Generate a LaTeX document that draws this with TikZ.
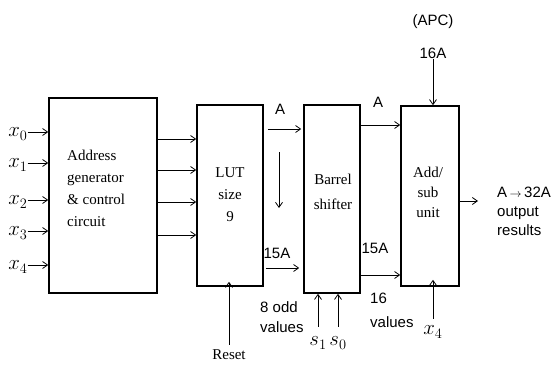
\documentclass[tikz,border=0pt]{standalone}
\usepackage{fontspec}
\setmainfont{Liberation Serif}
\setsansfont{Liberation Sans}
\usepackage{tikz}
\usetikzlibrary{arrows.meta,positioning,calc}

\begin{document}
\begin{tikzpicture}[
  x=1pt,y=-1pt,
  blk/.style={draw,line width=1.6pt,inner sep=0pt},
  txt/.style={font=\fontsize{15}{22}\selectfont,align=center,inner sep=0pt},
  lbl/.style={font=\sffamily\fontsize{15}{20}\selectfont,align=left,inner sep=0pt},
  var/.style={font=\fontsize{20}{22}\selectfont,inner sep=0pt},
  ar/.style={-{Straight Barb[length=5pt,width=7pt]},line width=0.8pt}
]
\useasboundingbox (0,0) rectangle (552,367);

\node[blk,minimum width=108pt,minimum height=195pt] (addr) at (103,195.5) {};
\node[blk,minimum width=66pt,minimum height=181pt] (lut) at (230,195.5) {};
\node[blk,minimum width=56pt,minimum height=188pt] (bar) at (332,199) {};
\node[blk,minimum width=58pt,minimum height=180pt] (add) at (430,196) {};

\node[txt,align=left,anchor=west] (addrtxt) at (67,188.5)
  {Address\\generator\\\& control\\circuit};
\node[txt] (luttxt) at (230,195) {LUT\\size\\9};
\node[txt,font=\fontsize{15}{25}\selectfont] (bartxt) at (333,191.5) {Barrel\\shifter};
\node[txt,font=\fontsize{15}{20}\selectfont] (addtxt) at (428,192) {Add/\\sub\\unit};

\foreach \i/\y in {0/132,1/163,2/200,3/231,4/265}{
  \node[var] (x\i) at (18,\y+2) {$x_\i$};
  \draw[ar] ([yshift=2pt]x\i.east) -- ([yshift=2pt]x\i.east -| addr.west);
}
\foreach \y in {139,170,202,235}
  \draw[ar] (addr.east |- 0,\y) -- (lut.west |- 0,\y);

\node[lbl] (la1) at (280,109) {A};
\node[lbl] (lb1) at (277,253) {15A};
\node[lbl,anchor=west] (lodd) at (260,317) {8 odd\\values};
\draw[ar] ([xshift=4pt]lut.east |- 0,129) -- ([xshift=-2pt]bar.west |- 0,129);
\draw[ar] ([xshift=2pt]lut.east |- 0,268) -- ([xshift=-4pt]bar.west |- 0,268);
\coordinate (dtop) at (279,152);
\coordinate (dbot) at (279,208);
\draw[ar] (dtop) -- (dbot);

\node[txt] (rst) at (229,355) {Reset};
\draw[ar] ([yshift=5pt]rst.north) -- ([yshift=5pt]rst.north |- lut.south);

\node[var] (s1) at (318,343) {$s_1$};
\node[var] (s0) at (338,343) {$s_0$};
\draw[ar] ([yshift=10pt]s1.north) -- (s1.north |- bar.south);
\draw[ar] ([yshift=10pt]s0.north) -- (s0.north |- bar.south);

\node[lbl] (la2) at (378,102) {A};
\node[lbl] (lb2) at (375,248) {15A};
\node[lbl,anchor=west,font=\sffamily\fontsize{15}{24}\selectfont] (l16) at (370,310) {16\\values};
\draw[ar] (bar.east |- 0,125) -- (add.west |- 0,125);
\draw[ar] (bar.east |- 0,275) -- (add.west |- 0,275);

\node[lbl] (apc) at (433,22) {(APC)};
\node[lbl] (l16a) at (433,53) {16A};
\draw[ar] (l16a.south) -- (l16a.south |- add.north);

\node[var] (xb) at (433,332) {$x_4$};
\draw[ar] ([yshift=7pt]xb.north) -- ([yshift=7pt]xb.north |- add.south);

\node[lbl,anchor=west,font=\sffamily\fontsize{15}{19}\selectfont] (out) at (497,211)
  {A\,{\fontsize{12}{12}\selectfont$\rightarrow$}\,32A\\output\\results};
\coordinate (oend) at (478,201);
\draw[ar] (add.east |- oend) -- (oend);
\end{tikzpicture}
\end{document}
